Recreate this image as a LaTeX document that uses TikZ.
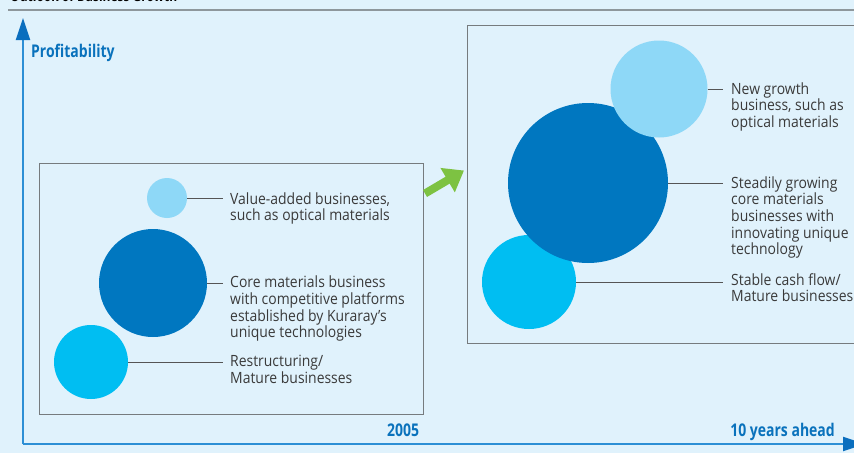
\documentclass[tikz,border=0pt]{standalone}
\usepackage{fontspec}
\setmainfont{Open Sans}
\newfontfamily\bodyfont[FakeStretch=0.9]{Open Sans}
\newfontfamily\headfont[FakeStretch=0.8]{Open Sans}
\usetikzlibrary{arrows.meta}

\definecolor{bgblue}{HTML}{E0F2FC}
\definecolor{rulegray}{HTML}{8E979C}
\definecolor{boxgray}{HTML}{767B7E}
\definecolor{axisblue}{HTML}{2D8FD5}
\definecolor{axisdark}{HTML}{0A6EBE}
\definecolor{labelblue}{HTML}{0A72BC}
\definecolor{coreblue}{HTML}{0077C0}
\definecolor{cyanblue}{HTML}{00BEF2}
\definecolor{lightblue}{HTML}{8ED8F7}
\definecolor{textgray}{HTML}{3A3A3A}
\definecolor{leadergray}{HTML}{555555}
\definecolor{arrowgreen}{HTML}{7DC242}

\tikzset{
  axis/.style={draw=axisblue, line width=2pt,
    -{Triangle[length=22pt,width=14pt,color=axisdark,fill=axisdark]}},
  axislabel/.style={font=\headfont\bfseries\fontsize{17.5}{20}\selectfont,
    text=labelblue, inner sep=0pt, anchor=base west},
  frame/.style={draw=boxgray, line width=1pt, inner sep=0pt, anchor=north west},
  bubble/.style={circle, inner sep=0pt, draw=none},
  % multi-line captions are placed by the baseline of their last line
  caption/.style={font=\bodyfont\fontsize{15.5}{16.7}\selectfont, text=textgray,
    align=left, inner sep=0pt, anchor=base west},
  leader/.style={draw=leadergray, line width=0.9pt},
}

\begin{document}
\begin{tikzpicture}[x=1pt,y=-1pt]
\useasboundingbox (0,0) rectangle (854,453);
\fill[bgblue] (0,0) rectangle (854,453);

% heading and rule
\node[font=\headfont\bfseries\fontsize{15}{18}\selectfont, inner sep=0pt,
      anchor=base west] (title) at (10,1.7) {Outlook of Business Growth};
\draw[draw=rulegray, line width=1.5pt] (8,10) -- (854,10);

% axes
\coordinate (origin) at (23,444);
\coordinate (ytip) at (23,18);
\coordinate (xtip) at (865,444);
\draw[axis] (origin) -- (ytip);
\draw[axis] (origin) -- (xtip);
\node[axislabel] (profit) at (31,57.3) {Profitability};
\node[axislabel] (now) at (387,436.7) {2005};
\node[axislabel, anchor=base east] (later) at (835,436.7) {10 years ahead};

% frames
\node[frame, minimum width=384pt, minimum height=251pt] (nowbox) at (39,163) {};
\node[frame, minimum width=410pt, minimum height=318pt] (laterbox) at (467,25) {};

% transition arrow
\coordinate (gtail) at (425,193.5);
\coordinate (ghead) at (464,170.5);
\draw[draw=arrowgreen, line width=8pt,
      -{Triangle[length=19pt,width=27pt,color=arrowgreen,fill=arrowgreen]}]
  (gtail) -- (ghead);

% 2005 bubbles
\node[bubble, fill=lightblue, minimum size=40pt] (va) at (167,198) {};
\node[bubble, fill=coreblue, minimum size=108pt] (core) at (153,283) {};
\node[bubble, fill=cyanblue, minimum size=74pt] (mat) at (91,362) {};

\node[caption] (vatext) at (230,220.7) {Value-added businesses,\\such as optical materials};
\node[caption] (coretext) at (230,337.8) {Core materials business\\with competitive platforms\\established by Kuraray’s\\unique technologies};
\node[caption] (mattext) at (230,383.4) {Restructuring/\\Mature businesses};

\draw[leader] (va.east) -- ([xshift=-7pt]va.east -| vatext.west);
\draw[leader] (core.east) -- ([xshift=-7pt]core.east -| coretext.west);
\draw[leader] (mat.east) -- ([xshift=-7pt]mat.east -| mattext.west);

% ten-year bubbles
\node[bubble, fill=cyanblue, minimum size=94pt] (cash) at (529,282) {};
\node[bubble, fill=coreblue, minimum size=160pt] (steady) at (588,183) {};
\node[bubble, fill=lightblue, minimum size=97pt] (growth) at (659,89) {};

\node[caption] (growthtext) at (731,127.4) {New growth\\business, such as\\optical materials};
\node[caption] (steadytext) at (731,254.8) {Steadily growing\\core materials\\businesses with\\innovating unique\\technology};
\node[caption] (cashtext) at (731,301.7) {Stable cash flow/\\Mature businesses};

\draw[leader] (growth.east) -- ([xshift=-8pt]growth.east -| growthtext.west);
\draw[leader] (steady.east) -- ([xshift=-8pt]steady.east -| steadytext.west);
\draw[leader] (cash.east) -- ([xshift=-8pt]cash.east -| cashtext.west);
\end{tikzpicture}
\end{document}
